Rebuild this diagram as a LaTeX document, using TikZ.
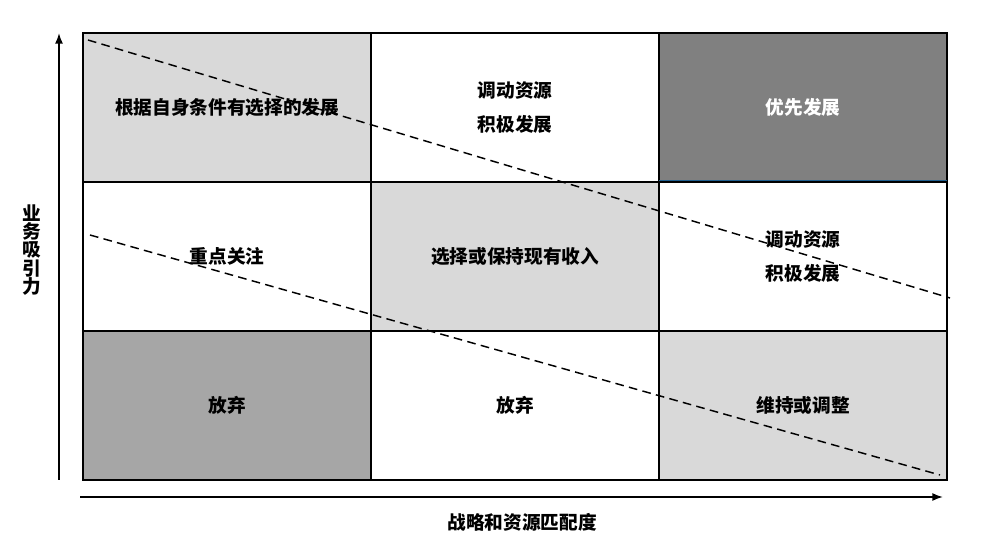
\documentclass[tikz,border=0pt]{standalone}
\usepackage{fontspec}
\newfontfamily\cjk{Noto Sans CJK SC}
\usetikzlibrary{positioning}
\usetikzlibrary{arrows.meta}
\definecolor{lightcell}{HTML}{D9D9D9}
\definecolor{midcell}{HTML}{A6A6A6}
\definecolor{darkcell}{HTML}{808080}
\definecolor{edgeblue}{HTML}{1F5F8F}
\begin{document}
\begin{tikzpicture}[x=0.75pt,y=-0.75pt,
  cell/.style={draw=black,line width=1.1pt,minimum width=216pt,minimum height=111.75pt,inner sep=0pt,align=center,font=\cjk\bfseries\fontsize{14pt}{25.5pt}\selectfont},
  split/.style={line width=1.1pt,dash pattern=on 6.5pt off 4pt},
  axis/.style={line width=1.2pt,-{Latex[length=8pt,width=6pt]}},
  axislabel/.style={font=\cjk\bfseries\fontsize{14pt}{13.8pt}\selectfont,align=center}]
 \useasboundingbox (0,0) rectangle (983,545);
 % top row
 \node[cell,fill=lightcell] (c11) at (227,107.5) {根据自身条件有选择的发展};
 \node[cell,fill=white] (c12) at (515,107.5) {调动资源\\积极发展};
 \node[cell,fill=darkcell,text=white] (c13) at (803,107.5) {优先发展};
 \draw[edgeblue,line width=1.2pt] ([xshift=0.6pt,yshift=1.4pt]c13.south west) -- ([xshift=-0.6pt,yshift=1.4pt]c13.south east);
 % middle row
 \node[cell,fill=white] (c21) at (227,256.5) {重点关注};
 \node[cell,fill=lightcell] (c22) at (515,256.5) {选择或保持现有收入};
 \node[cell,fill=white] (c23) at (803,256.5) {调动资源\\积极发展};
 % bottom row
 \node[cell,fill=midcell] (c31) at (227,405.5) {放弃};
 \node[cell,fill=white] (c32) at (515,405.5) {放弃};
 \node[cell,fill=lightcell] (c33) at (803,405.5) {维持或调整};
 % dividing lines
 \coordinate (u1) at (88,40);
 \coordinate (u2) at (950,298);
 \coordinate (l1) at (90,235);
 \coordinate (l2) at (940,475);
 \draw[split] (u1) -- (u2);
 \draw[split] (l1) -- (l2);
 % axes
 \coordinate (o1) at (59,480);
 \coordinate (yt) at (59,33);
 \coordinate (o2) at (80,497);
 \coordinate (xt) at (943,497);
 \draw[axis] (o1) -- (yt);
 \draw[axis] (o2) -- (xt);
 \node[axislabel] (ylab) at (32,250) {业\\务\\吸\\引\\力};
 \node[axislabel] (xlab) at (522,522) {战略和资源匹配度};
\end{tikzpicture}
\end{document}
